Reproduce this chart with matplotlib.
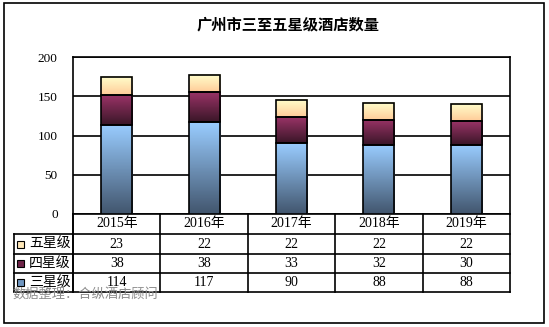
import matplotlib
matplotlib.use('Agg')
import matplotlib.pyplot as plt
import numpy as np
from matplotlib.colors import LinearSegmentedColormap
from matplotlib.patches import Rectangle
from matplotlib.transforms import blended_transform_factory

# 数据
years = ['2015年', '2016年', '2017年', '2018年', '2019年']
three_star = [114, 117, 90, 88, 88]
four_star = [38, 38, 33, 32, 30]
five_star = [23, 22, 22, 22, 22]
series_names = ['五星级', '四星级', '三星级']
yticks = [0, 50, 100, 150, 200]

plt.rcParams['font.family'] = ['Liberation Serif', 'Noto Sans CJK SC']

W, H = 549, 327
fig = plt.figure(figsize=(W / 100, H / 100), dpi=100)

# 外框 + 表格用的像素坐标层
over = fig.add_axes([0, 0, 1, 1], zorder=0)
over.set_xlim(0, W)
over.set_ylim(H, 0)
over.axis('off')
over.add_patch(Rectangle((4, 3), 540, 320, fill=False, lw=1.2, ec='black'))

ax = fig.add_axes([73 / W, 1 - 214 / H, (510 - 73) / W, (214 - 57) / H], zorder=1)
ax.patch.set_alpha(0)

cmaps = {
    '三星级': LinearSegmentedColormap.from_list('c3', ['#42566E', '#99CCFF']),
    '四星级': LinearSegmentedColormap.from_list('c4', ['#3A1628', '#993366']),
    '五星级': LinearSegmentedColormap.from_list('c5', ['#FFCC99', '#FFFFCC']),
}
legend_colors = {'五星级': '#FFE8B8', '四星级': '#6E2448', '三星级': '#6F96C0'}

grad = np.linspace(0, 1, 64).reshape(-1, 1)
bw = 0.355
x = np.arange(len(years))
bottoms = np.zeros(len(years))
for name, vals in [('三星级', three_star), ('四星级', four_star), ('五星级', five_star)]:
    for i, v in enumerate(vals):
        b = bottoms[i]
        ax.imshow(grad, extent=[x[i] - bw / 2, x[i] + bw / 2, b, b + v], origin='lower',
                  aspect='auto', cmap=cmaps[name], zorder=3)
        ax.add_patch(Rectangle((x[i] - bw / 2, b), bw, v, fill=False, ec='black', lw=1.2, zorder=4))
    bottoms += np.array(vals)

ax.set_xlim(-0.5, len(years) - 0.5)
ax.set_ylim(0, 200)
ax.set_yticks(yticks)
ax.set_xticks([])
ax.tick_params(axis='y', length=0, pad=11, labelsize=9.5)
ax.grid(axis='y', color='black', lw=1.2)
ax.set_axisbelow(True)
for s in ax.spines.values():
    s.set_linewidth(1.2)

fig.text(288 / W, 1 - 24 / H, '广州市三至五星级酒店数量', ha='center', va='center',
         fontsize=11, fontweight='bold', family=['Noto Sans CJK SC'])

# 数据表
tr = blended_transform_factory(ax.transData, over.transData)
row_y = [214, 234, 254, 273, 292]
for yy in row_y[1:]:
    over.plot([14, 510], [yy, yy], color='black', lw=1.2)
over.plot([14, 14], [234, 292], color='black', lw=1.2)
over.plot([73, 73], [214, 292], color='black', lw=1.2)
for k in range(len(years) + 1):
    ax.plot([k - 0.5, k - 0.5], [214, 292], color='black', lw=1.2, transform=tr, clip_on=False)

for i, yr in enumerate(years):
    ax.text(x[i], (row_y[0] + row_y[1]) / 2, yr, ha='center', va='center', fontsize=10,
            transform=tr)
rows = [('五星级', five_star), ('四星级', four_star), ('三星级', three_star)]
for r, (name, vals) in enumerate(rows):
    yc = (row_y[r + 1] + row_y[r + 2]) / 2
    over.add_patch(Rectangle((17, yc - 3.5), 7, 7, fc=legend_colors[name], ec='black', lw=0.8))
    over.text(29, yc, name, ha='left', va='center', fontsize=10, family=['Noto Sans CJK SC'])
    for i, v in enumerate(vals):
        ax.text(x[i], yc, str(v), ha='center', va='center', fontsize=10, transform=tr)

over.text(12, 294, '数据整理：合纵酒店顾问', ha='left', va='center', fontsize=9.5,
          color='#8C8C8C', family=['Noto Sans CJK SC'])

fig.savefig('out.png', dpi=100)
